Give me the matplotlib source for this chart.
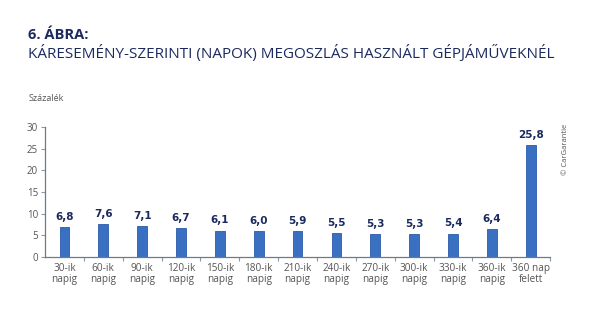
import matplotlib
matplotlib.use("Agg")
import matplotlib.pyplot as plt
import numpy as np

# data
categories = ["30-ik\nnapig", "60-ik\nnapig", "90-ik\nnapig", "120-ik\nnapig",
              "150-ik\nnapig", "180-ik\nnapig", "210-ik\nnapig", "240-ik\nnapig",
              "270-ik\nnapig", "300-ik\nnapig", "330-ik\nnapig", "360-ik\nnapig",
              "360 nap\nfelett"]
values = [6.8, 7.6, 7.1, 6.7, 6.1, 6.0, 5.9, 5.5, 5.3, 5.3, 5.4, 6.4, 25.8]
value_labels = ["6,8", "7,6", "7,1", "6,7", "6,1", "6,0", "5,9", "5,5",
                "5,3", "5,3", "5,4", "6,4", "25,8"]
yticks = [0, 5, 10, 15, 20, 25, 30]

navy = "#1b2a5e"
bar_color = "#3a70c2"
grey = "#555555"

plt.rcParams["font.family"] = ["Open Sans", "DejaVu Sans"]

fig = plt.figure(figsize=(6.0, 3.22), dpi=100)
ax = fig.add_axes([0.075, 0.202, 0.842, 0.404])

x = np.arange(len(categories))
ax.bar(x, values, width=0.25, color=bar_color, edgecolor="#2a5aa8", linewidth=0.6)

for xi, v, lab in zip(x, values, value_labels):
    ax.text(xi, v + 1.2, lab, ha="center", va="bottom", fontsize=7.5,
            fontweight="bold", color=navy, family=["Liberation Sans Narrow", "DejaVu Sans"])

ax.set_xlim(-0.5, len(categories) - 0.5)
ax.set_ylim(0, 30)
ax.set_yticks(yticks)
ax.set_yticklabels([str(t) for t in yticks], fontsize=7, color=grey)

# category labels centred, tick marks at the category boundaries
ax.set_xticks(x)
ax.set_xticklabels(categories, fontsize=7.2, color=grey, linespacing=1.0)
ax.tick_params(axis="x", length=0, pad=4)
ax.set_xticks(np.arange(len(categories)) + 0.5, minor=True)
ax.tick_params(axis="x", which="minor", length=3, color="#8899aa", width=0.8)
ax.tick_params(axis="y", length=3, color="#8899aa", width=0.8, pad=2)

for s in ["top", "right"]:
    ax.spines[s].set_visible(False)
for s in ["left", "bottom"]:
    ax.spines[s].set_color("#6a7a8e")
    ax.spines[s].set_linewidth(0.9)

fig.text(0.047, 0.89, "6. ÁBRA:", fontsize=10.5, fontweight="bold", color=navy,
         va="center", ha="left")
fig.text(0.047, 0.835, "KÁRESEMÉNY-SZERINTI (NAPOK) MEGOSZLÁS HASZNÁLT GÉPJÁMŰVEKNÉL",
         fontsize=11, color=navy, va="center", ha="left")
fig.text(0.047, 0.695, "Százalék", fontsize=6.5, color=grey, va="center", ha="left")
fig.text(0.942, 0.537, "© CarGarantie", fontsize=5.5, color=grey, rotation=90,
         va="center", ha="center")

fig.savefig("out.png", dpi=100)
